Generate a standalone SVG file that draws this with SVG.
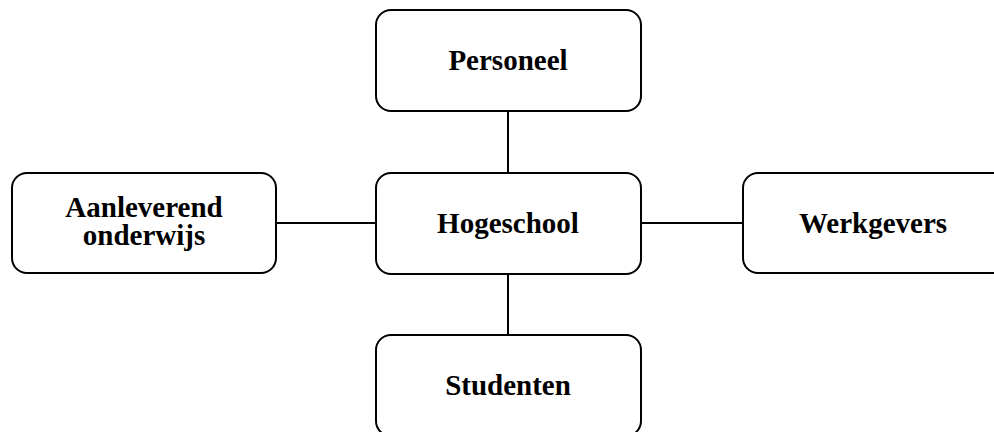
<svg xmlns="http://www.w3.org/2000/svg" width="994" height="432" viewBox="0 0 994 432">
<style>
.box{fill:#fff;stroke:#000;stroke-width:2}
.lbl{font-family:"Liberation Serif","Times New Roman",serif;font-weight:bold;font-size:29px;fill:#000;text-anchor:middle}
.con{stroke:#000;stroke-width:2;fill:none}
</style>
<rect width="994" height="432" fill="#fff"/>
<g id="connectors">
<line class="con" x1="508" y1="111" x2="508" y2="173"/>
<line class="con" x1="508" y1="274" x2="508" y2="335"/>
<line class="con" x1="276" y1="223" x2="376" y2="223"/>
<line class="con" x1="641" y1="223" x2="743" y2="223"/>
</g>
<g id="personeel">
<rect class="box" x="376" y="10" width="265" height="101" rx="15"/>
<text class="lbl" x="508" y="70">Personeel</text>
</g>
<g id="hogeschool">
<rect class="box" x="376" y="173" width="265" height="101" rx="15"/>
<text class="lbl" x="508" y="233">Hogeschool</text>
</g>
<g id="aanleverend">
<rect class="box" x="12" y="173" width="264" height="100" rx="15"/>
<text class="lbl" x="144" y="216.5">Aanleverend</text>
<text class="lbl" x="144" y="245">onderwijs</text>
</g>
<g id="werkgevers">
<rect class="box" x="743" y="173" width="265" height="100" rx="15"/>
<text class="lbl" x="873" y="233">Werkgevers</text>
</g>
<g id="studenten">
<rect class="box" x="376" y="335" width="265" height="101" rx="15"/>
<text class="lbl" x="508" y="395">Studenten</text>
</g>
</svg>
